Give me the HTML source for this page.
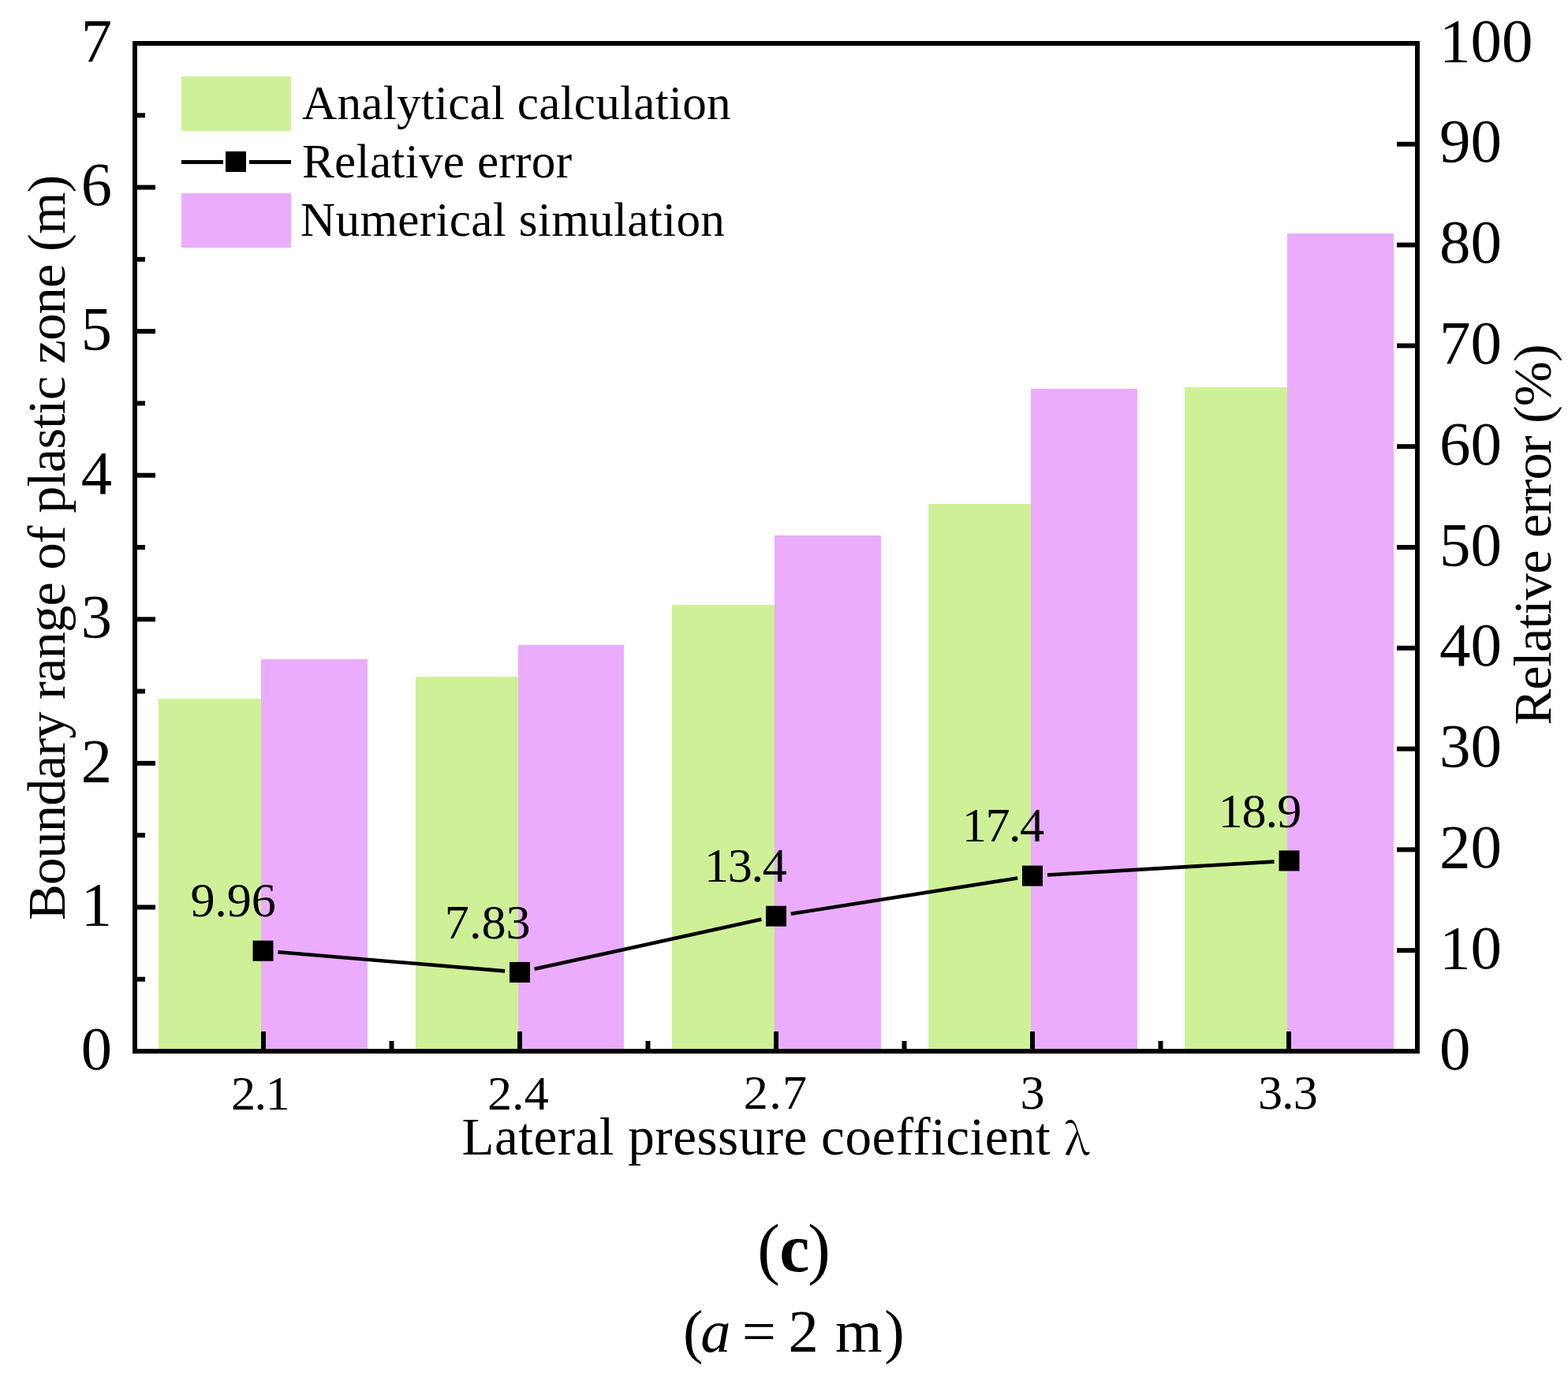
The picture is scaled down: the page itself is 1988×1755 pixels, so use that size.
<!DOCTYPE html><html><head><meta charset="utf-8"><title>Boundary range of plastic zone</title><style>html,body{margin:0;padding:0;background:#fff;}svg{display:block;}text{font-family:"Liberation Serif","Times New Roman",serif;fill:#000;}</style></head><body>
<svg width="1988" height="1755" viewBox="0 0 1988 1755">
<rect x="0" y="0" width="1988" height="1755" fill="#fff"/>
<rect x="201" y="886" width="130" height="447" fill="#CEF197"/>
<rect x="331" y="836" width="135" height="497" fill="#EBACFE"/>
<rect x="527" y="858" width="130" height="475" fill="#CEF197"/>
<rect x="657" y="818" width="134" height="515" fill="#EBACFE"/>
<rect x="852" y="767" width="130" height="566" fill="#CEF197"/>
<rect x="982" y="679" width="135" height="654" fill="#EBACFE"/>
<rect x="1177" y="639" width="130" height="694" fill="#CEF197"/>
<rect x="1307" y="493" width="135" height="840" fill="#EBACFE"/>
<rect x="1502" y="491" width="130" height="842" fill="#CEF197"/>
<rect x="1632" y="296" width="135" height="1037" fill="#EBACFE"/>
<line x1="352.43" y1="1207.29" x2="640.07" y2="1231.35" stroke="#000" stroke-width="4.6"/>
<line x1="677.56" y1="1228.87" x2="965.44" y2="1165.81" stroke="#000" stroke-width="4.6"/>
<line x1="1002.77" y1="1158.80" x2="1290.23" y2="1113.58" stroke="#000" stroke-width="4.6"/>
<line x1="1327.97" y1="1109.51" x2="1615.53" y2="1092.58" stroke="#000" stroke-width="4.6"/>
<rect x="320.50" y="1192.71" width="26" height="26" fill="#000"/>
<rect x="646.00" y="1219.93" width="26" height="26" fill="#000"/>
<rect x="971.00" y="1148.75" width="26" height="26" fill="#000"/>
<rect x="1296.00" y="1097.63" width="26" height="26" fill="#000"/>
<rect x="1621.50" y="1078.46" width="26" height="26" fill="#000"/>
<rect x="171" y="55" width="1626" height="1278" fill="none" stroke="#000" stroke-width="6"/>
<line x1="174" y1="1241.71" x2="184" y2="1241.71" stroke="#000" stroke-width="6"/>
<line x1="174" y1="1150.43" x2="197" y2="1150.43" stroke="#000" stroke-width="6"/>
<line x1="174" y1="1059.14" x2="184" y2="1059.14" stroke="#000" stroke-width="6"/>
<line x1="174" y1="967.86" x2="197" y2="967.86" stroke="#000" stroke-width="6"/>
<line x1="174" y1="876.57" x2="184" y2="876.57" stroke="#000" stroke-width="6"/>
<line x1="174" y1="785.29" x2="197" y2="785.29" stroke="#000" stroke-width="6"/>
<line x1="174" y1="694.00" x2="184" y2="694.00" stroke="#000" stroke-width="6"/>
<line x1="174" y1="602.71" x2="197" y2="602.71" stroke="#000" stroke-width="6"/>
<line x1="174" y1="511.43" x2="184" y2="511.43" stroke="#000" stroke-width="6"/>
<line x1="174" y1="420.14" x2="197" y2="420.14" stroke="#000" stroke-width="6"/>
<line x1="174" y1="328.86" x2="184" y2="328.86" stroke="#000" stroke-width="6"/>
<line x1="174" y1="237.57" x2="197" y2="237.57" stroke="#000" stroke-width="6"/>
<line x1="174" y1="146.29" x2="184" y2="146.29" stroke="#000" stroke-width="6"/>
<line x1="1794" y1="1205.20" x2="1771" y2="1205.20" stroke="#000" stroke-width="6"/>
<line x1="1794" y1="1077.40" x2="1771" y2="1077.40" stroke="#000" stroke-width="6"/>
<line x1="1794" y1="949.60" x2="1771" y2="949.60" stroke="#000" stroke-width="6"/>
<line x1="1794" y1="821.80" x2="1771" y2="821.80" stroke="#000" stroke-width="6"/>
<line x1="1794" y1="694.00" x2="1771" y2="694.00" stroke="#000" stroke-width="6"/>
<line x1="1794" y1="566.20" x2="1771" y2="566.20" stroke="#000" stroke-width="6"/>
<line x1="1794" y1="438.40" x2="1771" y2="438.40" stroke="#000" stroke-width="6"/>
<line x1="1794" y1="310.60" x2="1771" y2="310.60" stroke="#000" stroke-width="6"/>
<line x1="1794" y1="182.80" x2="1771" y2="182.80" stroke="#000" stroke-width="6"/>
<line x1="334" y1="1330" x2="334" y2="1308" stroke="#000" stroke-width="6"/>
<line x1="659" y1="1330" x2="659" y2="1308" stroke="#000" stroke-width="6"/>
<line x1="984" y1="1330" x2="984" y2="1308" stroke="#000" stroke-width="6"/>
<line x1="1309" y1="1330" x2="1309" y2="1308" stroke="#000" stroke-width="6"/>
<line x1="1634" y1="1330" x2="1634" y2="1308" stroke="#000" stroke-width="6"/>
<line x1="496.5" y1="1330" x2="496.5" y2="1320" stroke="#000" stroke-width="6"/>
<line x1="821.5" y1="1330" x2="821.5" y2="1320" stroke="#000" stroke-width="6"/>
<line x1="1146.5" y1="1330" x2="1146.5" y2="1320" stroke="#000" stroke-width="6"/>
<line x1="1471.5" y1="1330" x2="1471.5" y2="1320" stroke="#000" stroke-width="6"/>
<rect x="230" y="97" width="139" height="69" fill="#CEF197"/>
<rect x="230" y="245" width="139" height="69" fill="#EBACFE"/>
<line x1="230" y1="205.5" x2="283" y2="205.5" stroke="#000" stroke-width="4.8"/>
<line x1="316" y1="205.5" x2="369" y2="205.5" stroke="#000" stroke-width="4.8"/>
<rect x="286" y="192" width="26" height="26" fill="#000"/>
<text x="142" y="1355.80" font-size="78.5" text-anchor="end">0</text>
<text x="142" y="1173.23" font-size="78.5" text-anchor="end">1</text>
<text x="142" y="990.66" font-size="78.5" text-anchor="end">2</text>
<text x="142" y="808.09" font-size="78.5" text-anchor="end">3</text>
<text x="142" y="625.51" font-size="78.5" text-anchor="end">4</text>
<text x="142" y="442.94" font-size="78.5" text-anchor="end">5</text>
<text x="142" y="260.37" font-size="78.5" text-anchor="end">6</text>
<text x="142" y="77.80" font-size="78.5" text-anchor="end">7</text>
<text x="1825" y="1355.60" font-size="79">0</text>
<text x="1825" y="1227.80" font-size="79">10</text>
<text x="1825" y="1100.00" font-size="79">20</text>
<text x="1825" y="972.20" font-size="79">30</text>
<text x="1825" y="844.40" font-size="79">40</text>
<text x="1825" y="716.60" font-size="79">50</text>
<text x="1825" y="588.80" font-size="79">60</text>
<text x="1825" y="461.00" font-size="79">70</text>
<text x="1825" y="333.20" font-size="79">80</text>
<text x="1825" y="205.40" font-size="79">90</text>
<text x="1825" y="77.60" font-size="79">100</text>
<text x="383.00" y="150.90" font-size="61.20" textLength="543.56" lengthAdjust="spacing">Analytical calculation</text>
<text x="383.00" y="224.90" font-size="61.20" textLength="342.06" lengthAdjust="spacing">Relative error</text>
<text x="381.00" y="298.90" font-size="61.20" textLength="537.88" lengthAdjust="spacing">Numerical simulation</text>
<text x="585.50" y="1463.80" font-size="67.20" textLength="795.73" lengthAdjust="spacing">Lateral pressure coefficient <tspan font-family='"Noto Serif CJK SC",serif' font-size="55">λ</tspan></text>
<text x="241.40" y="1162.20" font-size="62.20" textLength="108.33" lengthAdjust="spacing">9.96</text>
<text x="563.80" y="1190.40" font-size="62.20" textLength="108.83" lengthAdjust="spacing">7.83</text>
<text x="893.00" y="1118.20" font-size="62.20" textLength="104.83" lengthAdjust="spacing">13.4</text>
<text x="1219.80" y="1066.80" font-size="62.20" textLength="104.33" lengthAdjust="spacing">17.4</text>
<text x="1544.40" y="1049.00" font-size="62.20" textLength="105.83" lengthAdjust="spacing">18.9</text>
<text x="293.00" y="1407.00" font-size="62.20" textLength="74.73" lengthAdjust="spacing">2.1</text>
<text x="618.00" y="1406.80" font-size="62.20" textLength="77.73" lengthAdjust="spacing">2.4</text>
<text x="942.80" y="1406.40" font-size="62.20" textLength="80.23" lengthAdjust="spacing">2.7</text>
<text x="1293.40" y="1406.00" font-size="62.20">3</text>
<text x="1595.00" y="1406.00" font-size="62.20" textLength="75.73" lengthAdjust="spacing">3.3</text>
<text transform="translate(82.10,1167.00) rotate(-90)" x="0" y="0" font-size="68.60" textLength="945.31" lengthAdjust="spacing">Boundary range of plastic zone (m)</text>
<text transform="translate(1965.90,919.50) rotate(-90)" x="0" y="0" font-size="68.60" textLength="483.45" lengthAdjust="spacing">Relative error (%)</text>
<text y="1611.60" font-size="85.80"><tspan x="960.21">(</tspan><tspan font-weight="bold" x="988.16">c</tspan><tspan x="1024.37">)</tspan></text>
<text y="1714.20" font-size="76.50"><tspan x="865.97">(</tspan><tspan font-style="italic" x="888.32">a</tspan><tspan> </tspan><tspan x="940.84">=</tspan><tspan> </tspan><tspan x="999.41">2</tspan><tspan> </tspan><tspan x="1059.04">m</tspan><tspan x="1121.31">)</tspan></text>
</svg></body></html>
